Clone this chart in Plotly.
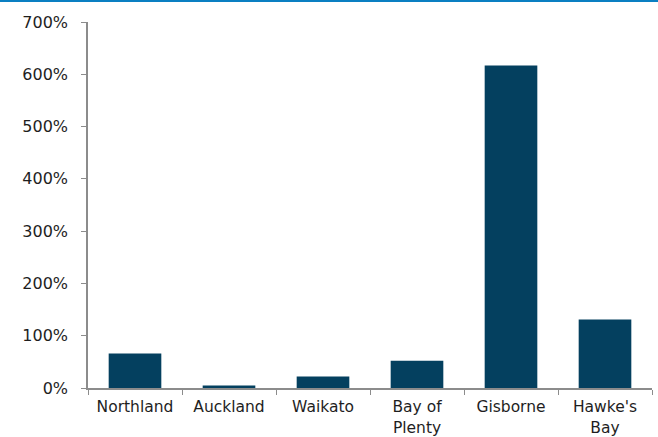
import plotly.graph_objects as go

# Regional change, percent
regions = ["Northland", "Auckland", "Waikato", "Bay of<br>Plenty", "Gisborne", "Hawke's<br>Bay"]
change_pct = [66, 5, 22, 52, 617, 131]
y_ticks = [0, 100, 200, 300, 400, 500, 600, 700]
y_tick_labels = [f"{v}%" for v in y_ticks]

BAR_COLOR = "#04405F"
AXIS_COLOR = "#8C8C8C"
FONT = dict(family="DejaVu Sans, Verdana, sans-serif", size=16, color="#1E1E1E")
X_FONT = dict(FONT, size=15.5)

W, H = 658, 437
M = dict(l=88, r=6, t=22, b=49)

fig = go.Figure(
    go.Bar(
        x=regions,
        y=change_pct,
        marker=dict(color=BAR_COLOR, line=dict(width=0)),
        width=0.56,
    )
)

plot_w = W - M["l"] - M["r"]
plot_h = H - M["t"] - M["b"]

fig.update_layout(
    width=W,
    height=H,
    margin=M,
    paper_bgcolor="white",
    plot_bgcolor="white",
    font=FONT,
    showlegend=False,
    bargap=0.44,
    shapes=[
        # thin accent rule across the top
        dict(
            type="line",
            xref="paper",
            yref="paper",
            x0=-M["l"] / plot_w,
            x1=1 + M["r"] / plot_w,
            y0=1 + (M["t"] - 1) / plot_h,
            y1=1 + (M["t"] - 1) / plot_h,
            line=dict(color="#0A7FC2", width=2),
        )
    ],
)

fig.update_xaxes(
    type="category",
    automargin=False,
    showline=True,
    linecolor=AXIS_COLOR,
    linewidth=1.5,
    ticks="outside",
    tickson="boundaries",
    ticklen=5,
    tickcolor=AXIS_COLOR,
    showgrid=False,
    tickfont=X_FONT,
    ticklabelstandoff=4,
)

fig.update_yaxes(
    range=[0, 700],
    automargin=False,
    tickvals=y_ticks,
    ticktext=y_tick_labels,
    showline=True,
    linecolor=AXIS_COLOR,
    linewidth=1.5,
    ticks="outside",
    ticklen=5,
    tickcolor=AXIS_COLOR,
    showgrid=False,
    zeroline=False,
    tickfont=FONT,
    ticklabelstandoff=10,
)

fig.write_html("out.html")
